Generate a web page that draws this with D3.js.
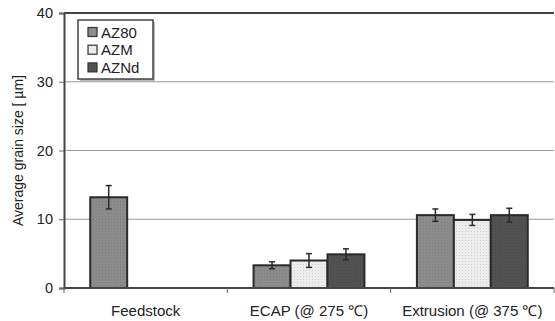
<!DOCTYPE html>
<html><head><meta charset="utf-8">
<script src="https://cdn.jsdelivr.net/npm/d3@7"></script>
<style>body{margin:0;background:#fff}svg text{font-family:"Liberation Sans",Arial,Helvetica,sans-serif;fill:#222}</style>
</head><body><svg id="c" width="555" height="321"></svg>
<script>
const categories = ["Feedstock", "ECAP (@ 275 \u2103)", "Extrusion (@ 375 \u2103)"];
const seriesNames = ["AZ80", "AZM", "AZNd"];
const AZ80 = [13.2, 3.3, 10.6];
const AZM = [null, 4.0, 9.9];
const AZNd = [null, 4.9, 10.6];
const errAZ80 = [1.7, 0.5, 0.9];
const errAZM = [null, 1.0, 0.8];
const errAZNd = [null, 0.8, 1.0];
const yTicks = [0, 10, 20, 30, 40];
const colors = ["#8c8c8c", "#ececec", "#525252"];

const values = [AZ80, AZM, AZNd];
const errs = [errAZ80, errAZM, errAZNd];
const svg = d3.select("#c");
const m = {l: 64, t: 13, r: 1, b: 33};
const W = 555, H = 321;
const x = d3.scaleBand().domain(categories).range([m.l, W - m.r]).paddingInner(0).paddingOuter(0);
const x1 = d3.scaleBand().domain(seriesNames).range([0, x.bandwidth()]).paddingOuter(0.71).paddingInner(0);
const y = d3.scaleLinear().domain([0, 40]).range([H - m.b, m.t]);

const defs = svg.append("defs");
colors.forEach((c, i) => {
  const p = defs.append("pattern").attr("id", "p" + i).attr("width", 3).attr("height", 3).attr("patternUnits", "userSpaceOnUse");
  p.append("rect").attr("width", 3).attr("height", 3).attr("fill", c);
  p.append("rect").attr("width", 1).attr("height", 1).attr("fill", d3.color(c).darker(0.35));
});

svg.append("g").selectAll("line").data(yTicks.filter(t => t > 0 && t < 40)).join("line")
  .attr("x1", m.l).attr("x2", W - m.r).attr("y1", d => y(d)).attr("y2", d => y(d))
  .attr("stroke", "#9a9a9a").attr("stroke-width", 1);

svg.append("line").attr("x1", m.l).attr("x2", W - m.r).attr("y1", y(40)).attr("y2", y(40)).attr("stroke", "#444").attr("stroke-width", 2);

const bars = [];
categories.forEach((c, ci) => seriesNames.forEach((s, si) => {
  if (values[si][ci] != null) bars.push({c, s, si, v: values[si][ci], e: errs[si][ci]});
}));
svg.append("g").selectAll("rect").data(bars).join("rect")
  .attr("x", d => x(d.c) + x1(d.s)).attr("width", x1.bandwidth())
  .attr("y", d => y(d.v)).attr("height", d => y(0) - y(d.v))
  .attr("fill", d => `url(#p${d.si})`).attr("stroke", "#2a2a2a").attr("stroke-width", 2);

const eg = svg.append("g").attr("stroke", "#2a2a2a").attr("stroke-width", 1.5);
bars.forEach(d => {
  const cx = x(d.c) + x1(d.s) + x1.bandwidth() / 2;
  eg.append("line").attr("x1", cx).attr("x2", cx).attr("y1", y(d.v + d.e)).attr("y2", y(d.v - d.e));
  eg.append("line").attr("x1", cx - 3).attr("x2", cx + 3).attr("y1", y(d.v + d.e)).attr("y2", y(d.v + d.e));
  eg.append("line").attr("x1", cx - 3).attr("x2", cx + 3).attr("y1", y(d.v - d.e)).attr("y2", y(d.v - d.e));
});

const ya = svg.append("g").attr("transform", `translate(${m.l},0)`)
  .call(d3.axisLeft(y).tickValues(yTicks).tickSize(5).tickPadding(6));
ya.select(".domain").attr("stroke", "#444").attr("stroke-width", 2);
ya.selectAll(".tick line").attr("stroke", "#666");
ya.selectAll("text").attr("font-size", 14.5).style("fill", "#222");

svg.append("line").attr("x1", m.l).attr("x2", W - m.r).attr("y1", y(0)).attr("y2", y(0)).attr("stroke", "#444").attr("stroke-width", 2);
const xa = svg.append("g").attr("transform", `translate(0,${y(0)})`);
categories.forEach((c, i) => {
  xa.append("line").attr("x1", x(c)).attr("x2", x(c)).attr("y1", 0).attr("y2", 5).attr("stroke", "#666");
  xa.append("text").attr("x", x(c) + x.bandwidth() / 2).attr("y", 28).attr("text-anchor", "middle")
    .attr("font-size", 15).text(c);
});
xa.append("line").attr("x1", W - m.r).attr("x2", W - m.r).attr("y1", 0).attr("y2", 5).attr("stroke", "#666");

svg.append("text").attr("transform", `translate(23,${(y(0) + y(40)) / 2}) rotate(-90)`)
  .attr("text-anchor", "middle").attr("font-size", 14).text("Average grain size [ \u00b5m]");

const lg = svg.append("g").attr("transform", "translate(78,20)");
lg.append("rect").attr("x", 2).attr("y", 2).attr("width", 75).attr("height", 59).attr("fill", "#bbb");
lg.append("rect").attr("width", 75).attr("height", 59).attr("fill", "#fff").attr("stroke", "#444").attr("stroke-width", 1.5);
seriesNames.forEach((s, i) => {
  lg.append("rect").attr("x", 10).attr("y", 7.5 + i * 17.7).attr("width", 9).attr("height", 9)
    .attr("fill", colors[i]).attr("stroke", "#333").attr("stroke-width", 1.2);
  lg.append("text").attr("x", 23).attr("y", 17.5 + i * 17.7).attr("font-size", 15).text(s);
});
</script></body></html>
